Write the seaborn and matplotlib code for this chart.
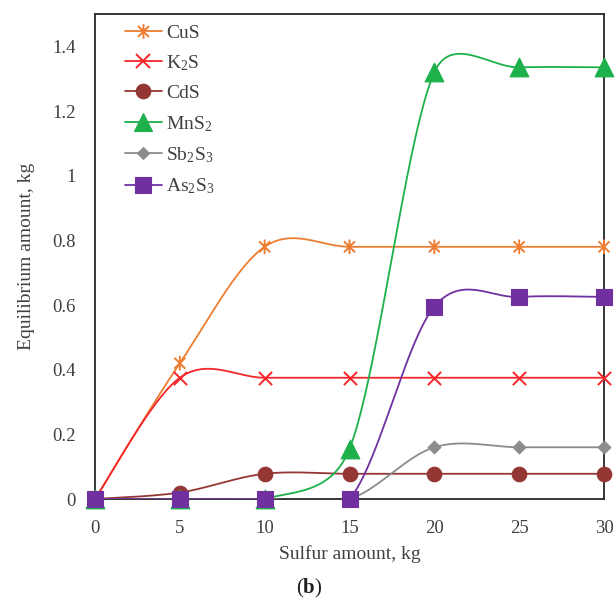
import numpy as np
import pandas as pd
import matplotlib
matplotlib.use("Agg")
import matplotlib.pyplot as plt
import seaborn as sns
from matplotlib.path import Path
from matplotlib.lines import Line2D
from matplotlib.ticker import MultipleLocator, FuncFormatter

# ---------------- data ----------------
sulfur = [0, 5, 10, 15, 20, 25, 30]
cus = [0, 0.42, 0.78, 0.78, 0.78, 0.78, 0.78]
k2s = [0, 0.375, 0.375, 0.375, 0.375, 0.375, 0.375]
cds = [0, 0.02, 0.078, 0.078, 0.078, 0.078, 0.078]
mns2 = [0, 0, 0, 0.155, 1.32, 1.335, 1.335]
sb2s3 = [0, 0, 0, 0, 0.16, 0.16, 0.16]
as2s3 = [0, 0, 0, 0, 0.595, 0.625, 0.625]
series_names = ["CuS", "K$_2$S", "CdS", "MnS$_2$", "Sb$_2$S$_3$", "As$_2$S$_3$"]
x_ticks = [0, 5, 10, 15, 20, 25, 30]
y_ticks = [0, 0.2, 0.4, 0.6, 0.8, 1.0, 1.2, 1.4]

# ---------------- style ----------------
sns.set_style("white")
plt.rcParams["font.family"] = ["Liberation Serif", "DejaVu Serif"]
plt.rcParams["mathtext.fontset"] = "custom"
plt.rcParams["mathtext.rm"] = "Liberation Serif"
plt.rcParams["mathtext.it"] = "Liberation Serif:italic"
plt.rcParams["mathtext.bf"] = "Liberation Serif:bold"
plt.rcParams["mathtext.default"] = "regular"
text_col = "#404040"

asterisk = Path(
    [(0, -1), (0, 1), (-0.75, -0.75), (0.75, 0.75), (-0.75, 0.75), (0.75, -0.75)],
    [Path.MOVETO, Path.LINETO, Path.MOVETO, Path.LINETO, Path.MOVETO, Path.LINETO],
)

styles = [
    dict(color="#ED7D31", marker=asterisk, s=10.5, kind="path"),
    dict(color="#F5262A", marker="x", s=9.5, kind="open"),
    dict(color="#943634", marker="o", s=10.5, kind="filled"),
    dict(color="#1DB04B", marker="^", s=13.5, kind="filled"),
    dict(color="#8C8C8C", marker="D", s=6.5, kind="filled"),
    dict(color="#7030A0", marker="s", s=11.5, kind="filled"),
]
values = [cus, k2s, cds, mns2, sb2s3, as2s3]

fig = plt.figure(figsize=(6.16, 6.01), dpi=100)
ax = fig.add_axes([95 / 616, 1 - 499 / 601, 509 / 616, 485 / 601])
ax.set_xlim(0, 30)
ax.set_ylim(0, 1.5)


def excel_smooth(xs, ys, n=60):
    pts = ax.transData.transform(np.column_stack([xs, ys]).astype(float))
    out = []
    m = len(pts)
    for i in range(m - 1):
        p0 = pts[i - 1] if i > 0 else pts[i]
        p1 = pts[i]
        p2 = pts[i + 1]
        p3 = pts[i + 2] if i + 2 < m else pts[i + 1]
        d12 = np.linalg.norm(p2 - p1)
        t1 = (p2 - p0) / 6.0
        t2 = (p3 - p1) / 6.0
        for t in (t1, t2):
            L = np.linalg.norm(t)
            if L > d12 / 2 and L > 0:
                t *= (d12 / 2) / L
        c1 = p1 + t1
        c2 = p2 - t2
        tt = np.linspace(0, 1, n)[:, None]
        seg = ((1 - tt) ** 3) * p1 + 3 * ((1 - tt) ** 2) * tt * c1 + 3 * (1 - tt) * tt ** 2 * c2 + tt ** 3 * p2
        out.append(seg if i == 0 else seg[1:])
    out = np.vstack(out)
    return ax.transData.inverted().transform(out)


handles = []
for name, vals, st in zip(series_names, values, styles):
    curve = excel_smooth(sulfur, vals)
    df_c = pd.DataFrame({"x": curve[:, 0], "y": curve[:, 1]})
    sns.lineplot(data=df_c, x="x", y="y", sort=False, estimator=None, ax=ax,
                 color=st["color"], lw=1.3, zorder=3)
    df_p = pd.DataFrame({"x": sulfur, "y": vals})
    if st["kind"] == "filled":
        sns.scatterplot(data=df_p, x="x", y="y", ax=ax, marker=st["marker"], s=st["s"] ** 2,
                        color=st["color"], edgecolor=st["color"], linewidth=0.8,
                        clip_on=False, zorder=4)
    elif st["kind"] == "path":
        sns.scatterplot(data=df_p, x="x", y="y", ax=ax, marker=st["marker"], s=st["s"] ** 2,
                        facecolor="none", edgecolor=st["color"],
                        linewidth=1.4, clip_on=False, zorder=4)
    else:
        sns.scatterplot(data=df_p, x="x", y="y", ax=ax, marker=st["marker"], s=st["s"] ** 2,
                        color=st["color"], linewidth=1.4, clip_on=False, zorder=4)
    handles.append(Line2D([], [], color=st["color"], lw=1.3, marker=st["marker"],
                          markersize=st["s"],
                          markerfacecolor="none" if st["kind"] == "path" else st["color"],
                          markeredgecolor=st["color"],
                          markeredgewidth=0.8 if st["kind"] == "filled" else 1.4))

# ---------------- axes ----------------
ax.set_xticks(x_ticks)
ax.set_yticks(y_ticks)
ax.xaxis.set_minor_locator(MultipleLocator(1))
ax.yaxis.set_minor_locator(MultipleLocator(0.04))
ax.yaxis.set_major_formatter(FuncFormatter(lambda v, p: f"{v:g}"))
ax.tick_params(axis="both", which="both", direction="in", colors="#262626",
               labelcolor=text_col, labelsize=13.5)
ax.tick_params(axis="x", which="major", length=5, width=1.2, pad=15)
ax.tick_params(axis="x", which="minor", length=5, width=1.2)
ax.tick_params(axis="y", which="major", length=5, width=1.0, color="#cccccc", pad=14)
ax.tick_params(axis="y", which="minor", length=5, width=1.2)
for sp in ax.spines.values():
    sp.set_color("#262626")
    sp.set_linewidth(1.3)
ax.set_xlabel("Sulfur amount, kg", fontsize=14, color=text_col, labelpad=6)
ax.set_ylabel("Equilibrium amount, kg", fontsize=14, color=text_col, labelpad=12)

leg = ax.legend(handles=handles, labels=series_names, loc="upper left",
                bbox_to_anchor=(125 / 616, 1 - 24 / 601), bbox_transform=fig.transFigure,
                frameon=False, fontsize=14, handlelength=1.9, handletextpad=0.2,
                labelspacing=0.6, borderpad=0, borderaxespad=0, labelcolor=text_col)

fig.text(0.502, 1 - 588 / 601, r"($\mathbf{b}$)", ha="center", va="center",
         fontsize=15, color="#202020")

fig.savefig("out.png", dpi=100)
